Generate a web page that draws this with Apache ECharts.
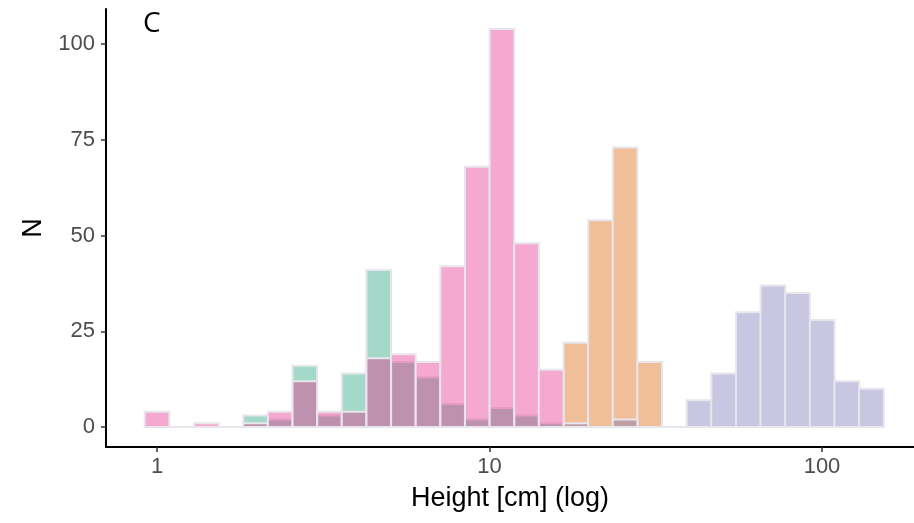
<!DOCTYPE html>
<html>
<head>
<meta charset="utf-8">
<script src="https://cdn.jsdelivr.net/npm/echarts@6/dist/echarts.min.js"></script>
<style>
  html, body { margin: 0; padding: 0; background: #ffffff; }
  #chart { width: 914px; height: 523px; }
</style>
</head>
<body>
<div id="chart"></div>
<script>
// ---- data (30 log-spaced histogram bins, bin 0 centred at 1 cm) ----
const binCount = 30;
const binWidthLog = 0.0741;          // width of one bin in log10 units
const tealCounts   = [0,0,0,0,3,2,16,3,14,41,17,13,6,2,5,3,1,0,0,0,0,0,0,0,0,0,0,0,0,0];
const orangeCounts = [0,0,0,0,0,0,0,0,0,0,0,0,0,0,0,0,0,22,54,73,17,0,0,0,0,0,0,0,0,0];
const purpleCounts = [0,0,0,0,0,0,0,0,0,0,0,0,0,0,0,0,0,1,0,2,0,0,7,14,30,37,35,28,12,10];
const pinkCounts   = [4,0,1,0,1,4,12,4,4,18,19,17,42,68,104,48,15,0,0,0,0,0,0,0,0,0,0,0,0,0];
const xTicks = [1, 10, 100];
const yTicks = [0, 25, 50, 75, 100];
const panelLabel = 'C';
const xTitle = 'Height [cm] (log)';
const yTitle = 'N';

// ---- build ----
function toItems(counts) {
  return counts.map((c, i) => [
    Math.pow(10, (i - 0.5) * binWidthLog),
    Math.pow(10, (i + 0.5) * binWidthLog),
    c
  ]);
}
const groups = [
  { counts: tealCounts,   fill: 'rgba(27,158,119,0.4)' },
  { counts: orangeCounts, fill: 'rgba(217,95,2,0.4)' },
  { counts: purpleCounts, fill: 'rgba(117,112,179,0.4)' },
  { counts: pinkCounts,   fill: 'rgba(231,41,138,0.4)' }
];
const tickFont = "'Liberation Sans', Arial, sans-serif";

const series = groups.map(g => ({
  type: 'custom',
  data: toItems(g.counts),
  encode: { x: [0, 1], y: 2 },
  renderItem: function (params, api) {
    const p0 = api.coord([api.value(0), api.value(2)]);
    const p1 = api.coord([api.value(1), 0]);
    return {
      type: 'rect',
      shape: { x: p0[0], y: p0[1], width: p1[0] - p0[0], height: p1[1] - p0[1] },
      style: { fill: g.fill, stroke: '#e6e6ec', lineWidth: 2 }
    };
  }
}));

const chart = echarts.init(document.getElementById('chart'), null, { renderer: 'canvas' });
chart.setOption({
  animation: false,
  backgroundColor: '#ffffff',
  grid: { left: 106, right: 0, top: 9, bottom: 76, containLabel: false },
  title: {
    text: panelLabel, left: 138, top: 5,
    textStyle: { fontFamily: "'Open Sans', 'Noto Sans', sans-serif", fontSize: 28, fontWeight: 'normal', color: '#000' }
  },
  xAxis: {
    type: 'log', logBase: 10,
    min: Math.pow(10, -0.1534), max: Math.pow(10, 2.2767),
    name: xTitle, nameLocation: 'middle', nameGap: 38,
    nameTextStyle: { fontFamily: tickFont, fontSize: 27, color: '#000' },
    axisLine: { show: true, onZero: false, lineStyle: { color: '#000', width: 2 } },
    axisTick: { show: true, customValues: xTicks, length: 5, lineStyle: { color: '#333', width: 1.5 } },
    axisLabel: { customValues: xTicks, margin: 9, fontFamily: tickFont, fontSize: 22, color: '#4d4d4d',
                 formatter: v => String(Math.round(v)) },
    splitLine: { show: false }, minorTick: { show: false }
  },
  yAxis: {
    type: 'value', min: -5.2, max: 109.2,
    name: yTitle, nameLocation: 'middle', nameGap: 59,
    nameTextStyle: { fontFamily: tickFont, fontSize: 27, color: '#000' },
    axisLine: { show: true, onZero: false, lineStyle: { color: '#000', width: 2 } },
    axisTick: { show: true, customValues: yTicks, length: 5, lineStyle: { color: '#333', width: 1.5 } },
    axisLabel: { customValues: yTicks, margin: 11, fontFamily: tickFont, fontSize: 22, color: '#4d4d4d' },
    splitLine: { show: false }
  },
  series: series
});
</script>
</body>
</html>
